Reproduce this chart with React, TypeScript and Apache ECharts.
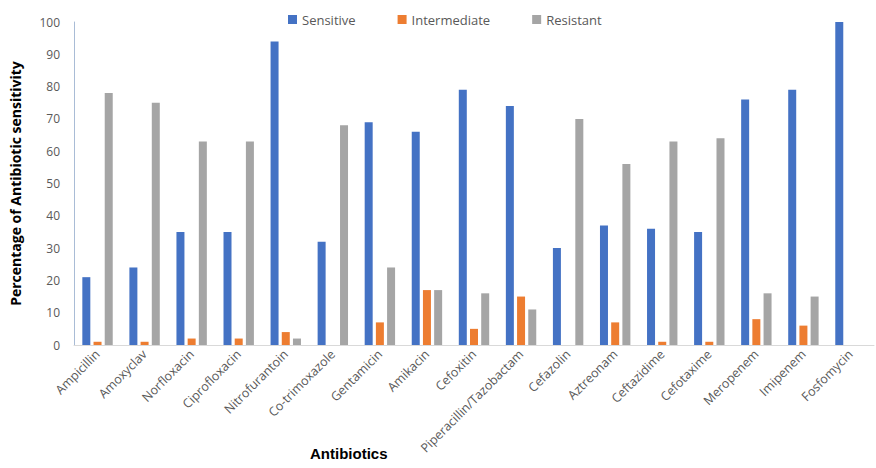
import React, { useEffect, useRef } from "react";
import * as echarts from "echarts";

const categories = [
  "Ampicillin", "Amoxyclav", "Norfloxacin", "Ciprofloxacin", "Nitrofurantoin",
  "Co-trimoxazole", "Gentamicin", "Amikacin", "Cefoxitin", "Piperacillin/Tazobactam",
  "Cefazolin", "Aztreonam", "Ceftazidime", "Cefotaxime", "Meropenem", "Imipenem", "Fosfomycin",
];
const sensitive = [21, 24, 35, 35, 94, 32, 69, 66, 79, 74, 30, 37, 36, 35, 76, 79, 100];
const intermediate = [1, 1, 2, 2, 4, 0, 7, 17, 5, 15, 0, 7, 1, 1, 8, 6, 0];
const resistant = [78, 75, 63, 63, 2, 68, 24, 17, 16, 11, 70, 56, 63, 64, 16, 15, 0];
const yTicks = [0, 10, 20, 30, 40, 50, 60, 70, 80, 90, 100];

const FONT = "'Open Sans', 'Noto Sans', sans-serif";

export default function App() {
  const ref = useRef<HTMLDivElement>(null);
  useEffect(() => {
    document.body.style.margin = "0";
    const chart = echarts.init(ref.current!, null, { renderer: "svg" });
    const bar = (name: string, data: number[], color: string) => ({
      name,
      type: "bar",
      data,
      barWidth: 8,
      barGap: "40%",
      itemStyle: { color },
    });
    chart.setOption({
      animation: false,
      textStyle: { fontFamily: FONT },
      legend: {
        top: 8,
        left: 283,
        itemWidth: 9,
        itemHeight: 9,
        itemGap: 42,
        icon: "rect",
        textStyle: { color: "#595959", fontSize: 13, fontFamily: FONT },
        data: ["Sensitive", "Intermediate", "Resistant"],
      },
      grid: { left: 72, right: 2, top: 22, bottom: 123, containLabel: false },
      xAxis: {
        type: "category",
        data: categories,
        axisLine: { show: true, lineStyle: { color: "#D9D9D9" } },
        axisTick: { show: false },
        axisLabel: {
          rotate: 45,
          interval: 0,
          color: "#595959",
          fontSize: 12.5,
          fontFamily: FONT,
          margin: 7,
        },
      },
      yAxis: {
        type: "value",
        min: 0,
        max: 100,
        interval: 10,
        name: "Percentage of Antibiotic sensitivity",
        nameLocation: "middle",
        nameGap: 52,
        nameTextStyle: { fontWeight: "bold", fontSize: 14, color: "#000", fontFamily: FONT },
        axisLine: { show: true, lineStyle: { color: "#A9BCD6" } },
        axisTick: { show: false },
        splitLine: { show: false },
        axisLabel: {
          color: "#595959",
          fontSize: 12,
          margin: 14,
          fontFamily: FONT,
          formatter: (v: number) => (yTicks.includes(v) ? String(v) : ""),
        },
      },
      graphic: [
        {
          type: "text",
          left: 352 - 42,
          top: 446,
          style: { text: "Antibiotics", fontWeight: "bold", fontSize: 15, fill: "#000", font: `bold 15px ${FONT}` },
        },
      ],
      series: [
        bar("Sensitive", sensitive, "#4472C4"),
        bar("Intermediate", intermediate, "#ED7D31"),
        bar("Resistant", resistant, "#A5A5A5"),
      ],
    });
    return () => chart.dispose();
  }, []);
  return <div ref={ref} style={{ width: 876, height: 468 }} />;
}
